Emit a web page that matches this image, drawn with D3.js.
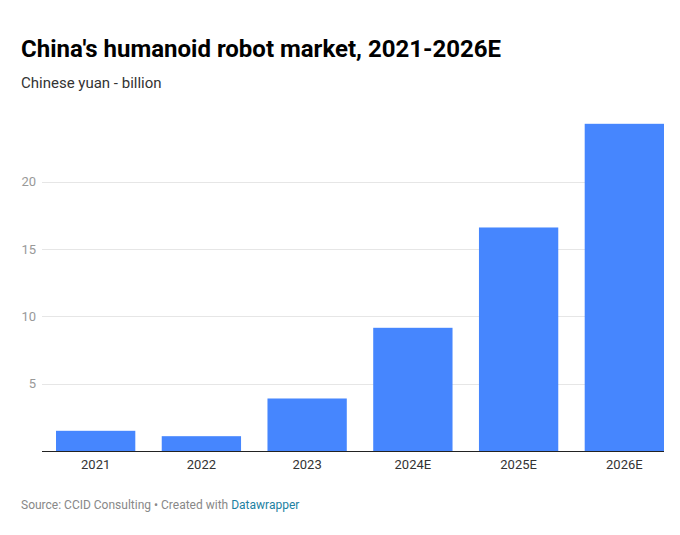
<!DOCTYPE html>
<html>
<head>
<meta charset="utf-8">
<script src="https://cdn.jsdelivr.net/npm/d3@7"></script>
<style>
  body { margin: 0; background: #fff; }
  text { font-family: Roboto, "Noto Sans", sans-serif; }
</style>
</head>
<body>
<div id="chart"></div>
<script>
const years = ["2021", "2022", "2023", "2024E", "2025E", "2026E"];
const market = [1.5, 1.1, 3.9, 9.15, 16.6, 24.3];
const yTicks = [5, 10, 15, 20];

const w = 680;
const h = 535;

const svg = d3.select("#chart")
  .append("svg")
    .attr("width", w)
    .attr("height", h);

svg.append("text")
  .text("China's humanoid robot market, 2021-2026E")
  .attr("x", 21)
  .attr("y", 57)
  .attr("font-size", 24)
  .attr("font-weight", "bold")
  .attr("fill", "#000");

svg.append("text")
  .text("Chinese yuan - billion")
  .attr("x", 21)
  .attr("y", 88)
  .attr("font-size", 15)
  .attr("fill", "#333");

const x = d3.scaleBand()
  .domain(years)
  .range([56, 664])
  .paddingInner(0.25)
  .paddingOuter(0);

const y = d3.scaleLinear()
  .domain([0, 20])
  .range([451, 181.7]);

// gridlines
const grid = svg.append("g");
grid.selectAll("line")
  .data(yTicks)
  .join("line")
    .attr("x1", 42)
    .attr("x2", 664)
    .attr("y1", d => Math.round(y(d)) + 0.5)
    .attr("y2", d => Math.round(y(d)) + 0.5)
    .attr("stroke", "#e6e6e6")
    .attr("stroke-width", 1);

grid.selectAll("text")
  .data(yTicks)
  .join("text")
    .text(d => d)
    .attr("x", 36)
    .attr("y", d => y(d) + 4.5)
    .attr("text-anchor", "end")
    .attr("font-size", 13)
    .attr("fill", "#999");

svg.append("g")
  .selectAll("rect")
  .data(market)
  .join("rect")
    .attr("x", (d, i) => x(years[i]))
    .attr("width", x.bandwidth())
    .attr("y", d => y(d))
    .attr("height", d => y(0) - y(d))
    .attr("fill", "#4686fe");

// baseline
svg.append("line")
  .attr("x1", 42)
  .attr("x2", 664)
  .attr("y1", 451.5)
  .attr("y2", 451.5)
  .attr("stroke", "#222")
  .attr("stroke-width", 1);

svg.append("g")
  .selectAll("text")
  .data(years)
  .join("text")
    .text(d => d)
    .attr("x", d => x(d) + x.bandwidth() / 2)
    .attr("y", 469)
    .attr("text-anchor", "middle")
    .attr("font-size", 13)
    .attr("fill", "#333");

const foot = svg.append("text")
  .attr("x", 21)
  .attr("y", 509)
  .attr("font-size", 12)
  .attr("fill", "#888");
foot.append("tspan").text("Source: CCID Consulting • Created with ");
foot.append("tspan").text("Datawrapper").attr("fill", "#1d81a2");
</script>
</body>
</html>
